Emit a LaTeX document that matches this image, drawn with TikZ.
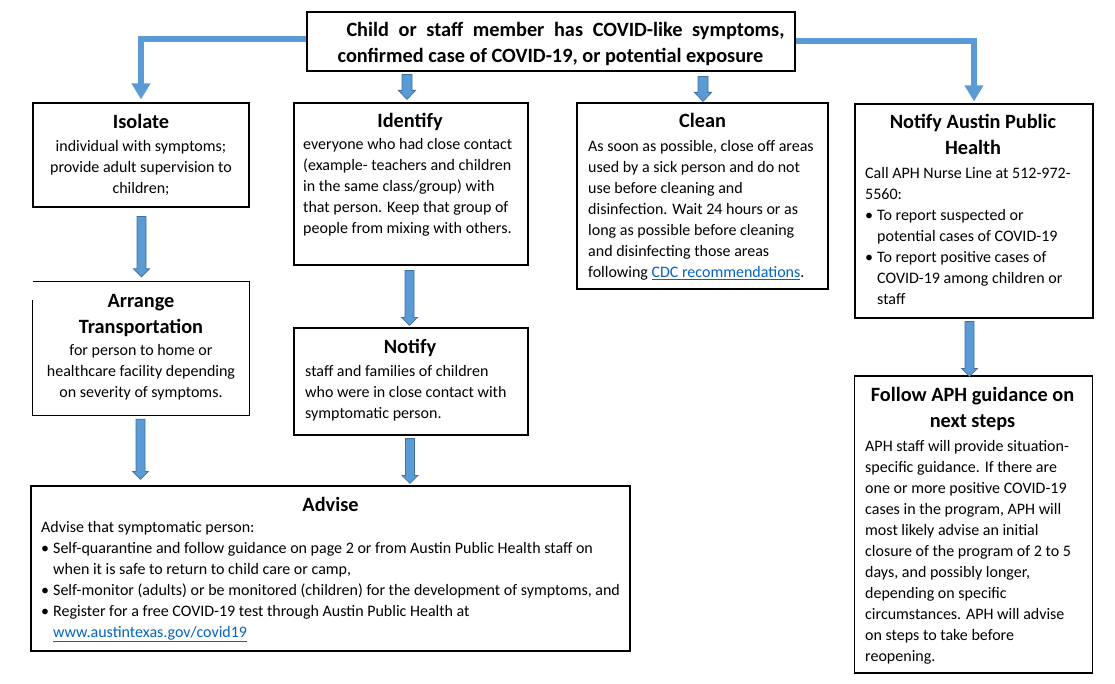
\documentclass[tikz,border=0pt]{standalone}
\usepackage{fontspec}
\setmainfont{Carlito}
\usetikzlibrary{calc,arrows.meta}
\definecolor{conn}{HTML}{5B9BD5}
\definecolor{connedge}{HTML}{41719C}
\definecolor{linkc}{HTML}{0563C1}
\newcommand\bodyf{\fontsize{16pt}{21pt}\selectfont}
\newcommand\headf{\fontsize{20.3pt}{26pt}\selectfont\bfseries}
\newcommand\bul{\makebox[12pt][l]{\textbullet}}
\newcommand\ind{\hspace*{12pt}}
\newcommand\lnk[1]{\textcolor{linkc}{\underline{#1}}}
\newcommand\barrow[5]{\draw[barrowstyle] let \p1=(#1), \p2=(#2) in
  (\x1-#3pt,\y1) -- (\x1+#3pt,\y1) -- (\x1+#3pt,\y2+#5pt) -- (\x1+#4pt,\y2+#5pt)
  -- (\x1,\y2) -- (\x1-#4pt,\y2+#5pt) -- (\x1-#3pt,\y2+#5pt) -- cycle;}
\begin{document}
\begin{tikzpicture}[x=1pt,y=-1pt,
  box/.style={draw=black, line width=1.2pt, inner sep=0pt},
  head/.style={font=\headf, align=center, inner sep=0pt, anchor=base},
  body/.style={font=\bodyf, align=left, inner sep=0pt, anchor=base west},
  cbody/.style={font=\bodyf, align=center, inner sep=0pt, anchor=base},
  thickarrow/.style={draw=conn, line width=6pt, -{Triangle[width=18pt,length=16pt]}},
  barrowstyle/.style={fill=conn, draw=connedge, line width=0.8pt, line join=miter}]
\fill[white] (0,0) rectangle (1115,684);
\useasboundingbox (0,0) rectangle (1115,684);

% boxes
\node[box, minimum width=488pt, minimum height=59pt] (top) at (551,41.5) {};
\node[box, minimum width=216pt, minimum height=104pt] (isolate) at (141,155) {};
\node[box, minimum width=234pt, minimum height=162pt] (identify) at (411,184) {};
\node[box, minimum width=251pt, minimum height=186pt] (clean) at (702.5,196) {};
\node[box, minimum width=238pt, minimum height=214pt] (aph) at (974,211) {};
\node[inner sep=0pt, minimum width=216pt, minimum height=133pt] (arrange) at (141,348.5) {};
\draw[line width=1.2pt] ([yshift=-18pt]arrange.north west) -- (arrange.south west) -- (arrange.south east) -- (arrange.north east) -- (arrange.north west);
\node[box, minimum width=234pt, minimum height=107pt] (notify) at (411,381.5) {};
\node[box, minimum width=599pt, minimum height=165pt] (advise) at (330.5,568.5) {};
\node[box, minimum width=238pt, minimum height=297pt] (follow) at (973.5,524.5) {};

% texts (base anchor = baseline of the last line)
\node[head] (topL1) at (565.5,37) {\makebox[438pt][s]{Child or staff member has COVID-like symptoms,}};
\node[head] (topL2) at (550.5,63) {confirmed case of COVID-19, or potential exposure};

\node[head] (isoH) at (141,129) {Isolate};
\node[cbody] (isoB) at (141,194) {individual with symptoms;\\provide adult supervision to\\children;};

\node[head] (idH) at (410,128) {Identify};
\node[body] (idB) at (303,234) {everyone who had close contact\\(example- teachers and children\\in the same class/group) with\\that person. Keep that group of\\people from mixing with others.};

\node[head] (clH) at (702.5,128) {Clean};
\node[body] (clB) at (588,278) {As soon as possible, close off areas\\used by a sick person and do not\\use before cleaning and\\disinfection. Wait 24 hours or as\\long as possible before cleaning\\and disinfecting those areas\\following \lnk{CDC recommendations}.};

\node[head] (aphH) at (973,155) {Notify Austin Public\\Health};
\node[body] (aphB) at (865,305) {Call APH Nurse Line at 512-972-\\5560:\\\bul To report suspected or\\\ind potential cases of COVID-19\\\bul To report positive cases of\\\ind COVID-19 among children or\\\ind staff};

\node[head] (arH) at (141,333) {Arrange\\Transportation};
\node[cbody] (arB) at (141,397) {for person to home or\\healthcare facility depending\\on severity of symptoms.};

\node[head] (noH) at (410,353) {Notify};
\node[body] (noB) at (305,418) {staff and families of children\\who were in close contact with\\symptomatic person.};

\node[head] (foH) at (972.5,427) {Follow APH guidance on\\next steps};
\node[body] (foB) at (865,661) {APH staff will provide situation-\\specific guidance. If there are\\one or more positive COVID-19\\cases in the program, APH will\\most likely advise an initial\\closure of the program of 2 to 5\\days, and possibly longer,\\depending on specific\\circumstances. APH will advise\\on steps to take before\\reopening.};

\node[head] (adH) at (330.5,511) {Advise};
\node[body] (adB) at (41,637) {Advise that symptomatic person:\\\bul Self-quarantine and follow guidance on page 2 or from Austin Public Health staff on\\\ind when it is safe to return to child care or camp,\\\bul Self-monitor (adults) or be monitored (children) for the development of symptoms, and\\\bul Register for a free COVID-19 test through Austin Public Health at\\\ind \lnk{www.austintexas.gov/covid19}};

% thick elbow connectors
\draw[thickarrow] ([yshift=2pt]top.west) -| ([yshift=3pt]isolate.north);
\draw[thickarrow] ([yshift=0.5pt]top.east) -| ([yshift=2pt]aph.north);

% block arrows
\path (top.south) ++(-144,3) coordinate (a1s);
\path (identify.north) ++(-4,-3) coordinate (a1e);
\path (top.south) ++(152,5) coordinate (a2s);
\path (clean.north) ++(0.5,-1) coordinate (a2e);
\path (isolate.south) ++(0.5,9) coordinate (a3s);
\path (arrange.north) ++(0.5,-5) coordinate (a3e);
\path (identify.south) ++(-1.5,5) coordinate (a4s);
\path (notify.north) ++(-1.5,-2) coordinate (a4e);
\path (arrange.south) ++(-0.5,4) coordinate (a5s);
\path (arrange.south |- advise.north) ++(-0.5,-6) coordinate (a5e);
\path (notify.south) ++(-1,3) coordinate (a6s);
\path (notify.south |- advise.north) ++(-1,-2) coordinate (a6e);
\path (aph.south) ++(-4.5,3) coordinate (a7s);
\path (follow.north) ++(-4,1) coordinate (a7e);
\barrow{a1s}{a1e}{5}{8.5}{9}
\barrow{a2s}{a2e}{5}{8.5}{9}
\barrow{a3s}{a3e}{4.5}{8}{8}
\barrow{a4s}{a4e}{4.5}{8}{8}
\barrow{a5s}{a5e}{4.5}{8}{8}
\barrow{a6s}{a6e}{4.5}{8}{8}
\barrow{a7s}{a7e}{4.5}{8}{8}
\end{tikzpicture}
\end{document}
